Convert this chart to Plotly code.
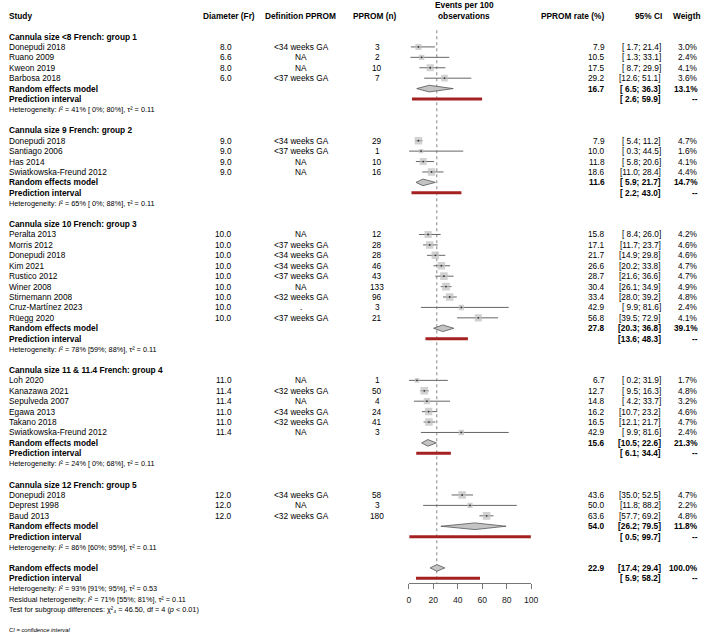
import plotly.graph_objects as go

# ---------------- data ----------------
group_titles = [
    "Cannula size &lt;8 French: group 1",
    "Cannula size 9 French: group 2",
    "Cannula size 10 French: group 3",
    "Cannula size 11 &amp; 11.4 French: group 4",
    "Cannula size 12 French: group 5",
]
group_of = [0, 0, 0, 0,
            1, 1, 1, 1,
            2, 2, 2, 2, 2, 2, 2, 2, 2,
            3, 3, 3, 3, 3, 3,
            4, 4, 4]
study = ["Donepudi 2018", "Ruano 2009", "Kweon 2019", "Barbosa 2018",
         "Donepudi 2018", "Santiago 2006", "Has 2014", "Swiatkowska-Freund 2012",
         "Peralta 2013", "Morris 2012", "Donepudi 2018", "Kim 2021", "Rustico 2012",
         "Winer 2008", "Stirnemann 2008", "Cruz-Martínez 2023", "Rüegg 2020",
         "Loh 2020", "Kanazawa 2021", "Sepulveda 2007", "Egawa 2013", "Takano 2018",
         "Swiatkowska-Freund 2012",
         "Donepudi 2018", "Deprest 1998", "Baud 2013"]
diameter = [8.0, 6.6, 8.0, 6.0,
            9.0, 9.0, 9.0, 9.0,
            10.0, 10.0, 10.0, 10.0, 10.0, 10.0, 10.0, 10.0, 10.0,
            11.0, 11.4, 11.4, 11.0, 11.0, 11.4,
            12.0, 12.0, 12.0]
definition = ["&lt;34 weeks GA", "NA", "NA", "&lt;37 weeks GA",
              "&lt;34 weeks GA", "&lt;37 weeks GA", "NA", "NA",
              "NA", "&lt;37 weeks GA", "&lt;34 weeks GA", "&lt;34 weeks GA", "&lt;37 weeks GA",
              "NA", "&lt;32 weeks GA", ".", "&lt;37 weeks GA",
              "NA", "&lt;32 weeks GA", "NA", "&lt;34 weeks GA", "&lt;32 weeks GA", "NA",
              "&lt;34 weeks GA", "NA", "&lt;32 weeks GA"]
pprom_n = [3, 2, 10, 7,
           29, 1, 10, 16,
           12, 28, 28, 46, 43, 133, 96, 3, 21,
           1, 50, 4, 24, 41, 3,
           58, 3, 180]
rate = [7.9, 10.5, 17.5, 29.2,
        7.9, 10.0, 11.8, 18.6,
        15.8, 17.1, 21.7, 26.6, 28.7, 30.4, 33.4, 42.9, 56.8,
        6.7, 12.7, 14.8, 16.2, 16.5, 42.9,
        43.6, 50.0, 63.6]
ci_lo = [1.7, 1.3, 8.7, 12.6,
         5.4, 0.3, 5.8, 11.0,
         8.4, 11.7, 14.9, 20.2, 21.6, 26.1, 28.0, 9.9, 39.5,
         0.2, 9.5, 4.2, 10.7, 12.1, 9.9,
         35.0, 11.8, 57.7]
ci_hi = [21.4, 33.1, 29.9, 51.1,
         11.2, 44.5, 20.6, 28.4,
         26.0, 23.7, 29.8, 33.8, 36.6, 34.9, 39.2, 81.6, 72.9,
         31.9, 16.3, 33.7, 23.2, 21.7, 81.6,
         52.5, 88.2, 69.2]
weight = [3.0, 2.4, 4.1, 3.6,
          4.7, 1.6, 4.1, 4.4,
          4.2, 4.6, 4.6, 4.7, 4.7, 4.9, 4.8, 2.4, 4.1,
          1.7, 4.8, 3.2, 4.6, 4.7, 2.4,
          4.7, 2.2, 4.8]

re_est = [16.7, 11.6, 27.8, 15.6, 54.0]
re_lo = [6.5, 5.9, 20.3, 10.5, 26.2]
re_hi = [36.3, 21.7, 36.8, 22.6, 79.5]
re_weight = [13.1, 14.7, 39.1, 21.3, 11.8]
pi_lo = [2.6, 2.2, 13.6, 6.1, 0.5]
pi_hi = [59.9, 43.0, 48.3, 34.4, 99.7]
het_text = ["41% [ 0%; 80%]", "65% [ 0%; 88%]", "78% [59%; 88%]",
            "24% [ 0%; 68%]", "86% [60%; 95%]"]
het_tau2 = ["0.11", "0.11", "0.11", "0.11", "0.11"]

overall_est, overall_lo, overall_hi, overall_weight = 22.9, 17.4, 29.4, 100.0
overall_pi_lo, overall_pi_hi = 5.9, 58.2

x_ticks = [0, 20, 40, 60, 80, 100]

# ---------------- layout helpers ----------------
W, H = 709, 634
ROW0_PX, ROW_H = 36.5, 10.42
AXIS_PX = 583
X0_PX, X100_PX = 412, 536
FONT = "Liberation Sans, Arial, sans-serif"
FS = 8.3
FS_SMALL = 7.3

def px(x):
    return x / W

annotations = []

def txt(x_px, row, text, anchor="left", bold=False, size=FS, italic=False, color="#000"):
    t = text
    if bold:
        t = "<b>" + t + "</b>"
    if italic:
        t = "<i>" + t + "</i>"
    annotations.append(dict(
        x=px(x_px), xref="paper", y=row, yref="y", text=t, showarrow=False,
        xanchor=anchor, yanchor="middle", font=dict(family=FONT, size=size, color=color)))

def ci_str(lo, hi):
    return f"[{lo:4.1f}; {hi:4.1f}]"

# column positions (px)
C_STUDY = 5
C_DIAM_R = 235
C_DEF_C = 303
C_N_C = 380
C_RATE_R = 613
C_CI_R = 670
C_W_R = 707

# header
HDR = -2.0
txt(C_STUDY, HDR, "Study", bold=True)
txt(230, HDR, "Diameter (Fr)", anchor="center", bold=True)
txt(302, HDR, "Definition PPROM", anchor="center", bold=True)
txt(378, HDR, "PPROM (n)", anchor="center", bold=True)
txt(468, -3.07, "Events per 100", anchor="center", bold=True)
txt(468, HDR, "observations", anchor="center", bold=True)
txt(612, HDR, "PPROM rate (%)", anchor="right", bold=True)
txt(671, HDR, "95% CI", anchor="right", bold=True)
txt(678, HDR, "Weigth", anchor="left", bold=True)

# rows
study_rows = []
re_rows = []
pi_rows = []
r = 0
for g, title in enumerate(group_titles):
    txt(C_STUDY, r, title, bold=True)
    idx = [i for i, gg in enumerate(group_of) if gg == g]
    for k, i in enumerate(idx):
        rr = r + 1 + k
        study_rows.append(rr)
        txt(C_STUDY, rr, study[i])
        txt(C_DIAM_R, rr, f"{diameter[i]:.1f}", anchor="right")
        txt(C_DEF_C, rr, definition[i], anchor="center")
        txt(C_N_C, rr, str(pprom_n[i]), anchor="center")
        txt(C_RATE_R, rr, f"{rate[i]:.1f}", anchor="right")
        txt(C_CI_R, rr, ci_str(ci_lo[i], ci_hi[i]), anchor="right")
        txt(C_W_R, rr, f"{weight[i]:.1f}%", anchor="right")
    rr = r + 1 + len(idx)
    re_rows.append(rr)
    txt(C_STUDY, rr, "Random effects model", bold=True)
    txt(C_RATE_R, rr, f"{re_est[g]:.1f}", anchor="right", bold=True)
    txt(C_CI_R, rr, ci_str(re_lo[g], re_hi[g]), anchor="right", bold=True)
    txt(C_W_R, rr, f"{re_weight[g]:.1f}%", anchor="right", bold=True)
    pi_rows.append(rr + 1)
    txt(C_STUDY, rr + 1, "Prediction interval", bold=True)
    txt(C_CI_R, rr + 1, ci_str(pi_lo[g], pi_hi[g]), anchor="right", bold=True)
    txt(C_W_R, rr + 1, "--", anchor="right", bold=True)
    txt(C_STUDY, rr + 2,
        f"Heterogeneity: <i>I</i>² = {het_text[g]}, τ² = {het_tau2[g]}",
        size=FS_SMALL)
    r = rr + 4

ov = r
txt(C_STUDY, ov, "Random effects model", bold=True)
txt(C_RATE_R, ov, f"{overall_est:.1f}", anchor="right", bold=True)
txt(C_CI_R, ov, ci_str(overall_lo, overall_hi), anchor="right", bold=True)
txt(C_W_R, ov, f"{overall_weight:.1f}%", anchor="right", bold=True)
txt(C_STUDY, ov + 1, "Prediction interval", bold=True)
txt(C_CI_R, ov + 1, ci_str(overall_pi_lo, overall_pi_hi), anchor="right", bold=True)
txt(C_W_R, ov + 1, "--", anchor="right", bold=True)
txt(C_STUDY, ov + 2, "Heterogeneity: <i>I</i>² = 93% [91%; 95%], τ² = 0.53", size=FS_SMALL)
txt(C_STUDY, ov + 3, "Residual heterogeneity: <i>I</i>² = 71% [55%; 81%], τ² = 0.11", size=FS_SMALL)
txt(C_STUDY, ov + 4, "Test for subgroup differences: χ²₄ = 46.50, df = 4 (<i>p</i> &lt; 0.01)", size=FS_SMALL)
txt(C_STUDY, ov + 6.0, "CI = confidence interval", size=5.8, italic=True)

all_re_rows = re_rows + [ov]
all_re_est = re_est + [overall_est]
all_re_lo = re_lo + [overall_lo]
all_re_hi = re_hi + [overall_hi]
all_pi_rows = pi_rows + [ov + 1]
all_pi_lo = pi_lo + [overall_pi_lo]
all_pi_hi = pi_hi + [overall_pi_hi]

fig = go.Figure()

# CI lines
lx, ly = [], []
for i, rr in enumerate(study_rows):
    lx += [ci_lo[i], ci_hi[i], None]
    ly += [rr, rr, None]
fig.add_trace(go.Scatter(x=lx, y=ly, mode="lines", line=dict(color="#666", width=1),
                         hoverinfo="skip", showlegend=False))
# squares
fig.add_trace(go.Scatter(x=rate, y=study_rows, mode="markers",
                         marker=dict(symbol="square", color="#bfbfbf",
                                     size=[3.5 * (w ** 0.5) for w in weight],
                                     line=dict(width=0)),
                         hoverinfo="skip", showlegend=False))
fig.add_trace(go.Scatter(x=rate, y=study_rows, mode="markers",
                         marker=dict(symbol="circle", color="#333", size=1.8, line=dict(width=0)),
                         hoverinfo="skip", showlegend=False))
# diamonds
dx, dy = [], []
for k, rr in enumerate(all_re_rows):
    dx += [all_re_lo[k], all_re_est[k], all_re_hi[k], all_re_est[k], all_re_lo[k], None]
    dy += [rr, rr - 0.32, rr, rr + 0.32, rr, None]
fig.add_trace(go.Scatter(x=dx, y=dy, mode="lines", fill="toself", fillcolor="#c4c4c4",
                         line=dict(color="#555", width=0.8), hoverinfo="skip", showlegend=False))
# prediction intervals
px_, py_ = [], []
for k, rr in enumerate(all_pi_rows):
    px_ += [all_pi_lo[k], all_pi_hi[k], None]
    py_ += [rr, rr, None]
fig.add_trace(go.Scatter(x=px_, y=py_, mode="lines", line=dict(color="#a52020", width=3),
                         hoverinfo="skip", showlegend=False))

y_top = -ROW0_PX / ROW_H
y_bot = (H - ROW0_PX) / ROW_H
axis_row = (AXIS_PX - ROW0_PX) / ROW_H

fig.add_shape(type="line", xref="x", yref="y", x0=overall_est, x1=overall_est,
              y0=-0.6, y1=axis_row, line=dict(color="#777", width=0.9, dash="dot"), layer="below")

fig.update_layout(
    width=W, height=H, margin=dict(l=0, r=0, t=0, b=0),
    paper_bgcolor="white", plot_bgcolor="rgba(0,0,0,0)",
    annotations=annotations, showlegend=False,
    xaxis=dict(domain=[X0_PX / W, X100_PX / W], range=[0, 100], tickvals=x_ticks,
               showgrid=False, zeroline=False, showline=True, linecolor="#777", linewidth=1,
               ticks="outside", ticklen=5, tickcolor="#777", anchor="free",
               position=(H - AXIS_PX) / H,
               tickfont=dict(family=FONT, size=8.6, color="#222"), ticklabelstandoff=4),
    yaxis=dict(domain=[0, 1], range=[y_bot, y_top], visible=False),
)

fig.write_html("out.html", config={"displayModeBar": False},
               post_script="document.body.style.margin='0';document.body.style.overflow='hidden';")
